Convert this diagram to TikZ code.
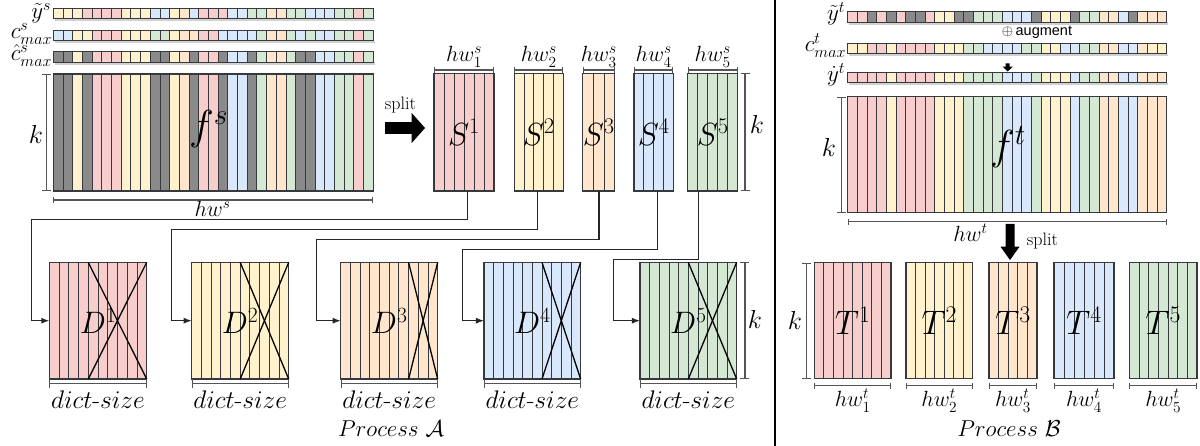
\RequirePackage{fix-cm}
\documentclass[tikz,border=0pt]{standalone}
\usepackage{amsmath}
\usepackage{fontspec}
\newfontfamily\sansaug{Liberation Sans}
\usetikzlibrary{arrows.meta,calc}
\definecolor{pr}{HTML}{F8CECC}
\definecolor{py}{HTML}{FFF2CC}
\definecolor{po}{HTML}{FFE6CC}
\definecolor{pb}{HTML}{DAE8FC}
\definecolor{pg}{HTML}{D5E8D4}
\definecolor{pk}{HTML}{8A8A8A}
\definecolor{edge}{HTML}{36393D}
\definecolor{dimc}{HTML}{555555}
\newcommand\fs[1]{\fontsize{#1}{#1}\selectfont}
\newcommand\cellstrip[6]{%
  \fill[black!18] ({#2+1.5},{#3+#5}) rectangle ({#2+33*#4+1.5},{#3+#5+2.5});
  \foreach \c [count=\i from 0] in {#6}{\draw[cellln,fill=\c] ({#2+\i*#4},#3) rectangle ++(#4,#5);}
  \node[draw=edge,line width=1.1pt,inner sep=0pt,outer sep=0pt,minimum width={33*#4pt},minimum height={#5pt},anchor=north west] (#1) at (#2,#3) {};
}
\newcommand\colblock[6]{%
  \foreach \c [count=\i from 0] in {#6}{\draw[stripeln,fill=\c] ({#2+\i*#4},#3) rectangle ++(#4,#5);}
  \node[draw=edge,line width=1.2pt,inner sep=0pt,outer sep=0pt,minimum width={33*#4pt},minimum height={#5pt},anchor=north west] (#1) at (#2,#3) {};
}
\begin{document}
\begin{tikzpicture}[x=1pt,y=-1pt,
  cellln/.style={draw=edge,line width=0.9pt},
  stripeln/.style={draw=edge,line width=0.9pt},
  blk/.style={draw=edge,line width=1.2pt,inner sep=0pt,outer sep=0pt},
  cols/.style={path picture={
    \foreach \k in {1,...,#1}{
      \draw[stripeln] ($(path picture bounding box.north west)!{\k/(#1+1)}!(path picture bounding box.north east)$) -- ($(path picture bounding box.south west)!{\k/(#1+1)}!(path picture bounding box.south east)$);
    }}},
  dimln/.style={draw=dimc,line width=1.1pt},
  dimh/.style={dimln,{Bar[width=6pt]}-{Bar[width=6pt]}},
  dimk/.style={dimln,{Bar[width=9pt]}-{Bar[width=9pt]}},
  conn/.style={draw=black!85,line width=1.1pt,-{Latex[length=8pt,width=6pt]}},
  xln/.style={draw=black,line width=1.3pt},
  lbl/.style={inner sep=0pt,outer sep=0pt},
  bigarrow/.style={fill=black}
]
\useasboundingbox (0,0) rectangle (1200,446);

% ---------- Process A : strips ----------
\cellstrip{ys}{53.3}{8.3}{9.697}{10.6}{py,py,py,pr,pr,pr,pr,py,py,py,pb,pb,py,po,pb,pr,pr,pr,pb,pb,pg,pg,po,po,pg,pg,pb,pb,pb,pg,pg,pr,pg}
\cellstrip{cs}{53.3}{30.1}{9.697}{10.6}{pb,pb,py,py,pr,pr,pr,py,py,py,pg,pg,py,po,po,pr,pr,pb,pb,pb,pb,pg,po,po,pg,pb,pg,pb,pb,pg,pg,pr,pg}
\cellstrip{chs}{53.3}{51.7}{9.697}{10.6}{pk,pk,py,pk,pr,pr,pr,py,py,py,pk,pk,py,po,pk,pr,pr,pk,pb,pb,pk,pg,po,po,pg,pk,pk,pb,pb,pg,pg,pr,pg}
\node[lbl,anchor=base east,font=\fs{23}] (lys) at (51,18.5) {$\tilde{y}^s$};
\node[lbl,anchor=base east,font=\fs{23}] (lcs) at (52,38.5) {$c^s_{max}$};
\node[lbl,anchor=base east,font=\fs{23}] (lchs) at (52,60.5) {$\hat{c}^s_{max}$};

% f^s
\colblock{fs}{53.3}{74}{9.697}{117}{pk,pk,py,pk,pr,pr,pr,py,py,py,pk,pk,py,po,pk,pr,pr,pk,pb,pb,pk,pg,po,po,pg,pk,pk,pb,pb,pg,pg,pr,pg}
\node[lbl,anchor=base,font=\fs{42}] (lfs) at (208.5,139.5) {$f^s$};
\draw[dimk] ([xshift=-6.6pt]fs.north west) -- ([xshift=-6.6pt]fs.south west);
\node[lbl,anchor=base,font=\fs{26}] (kfs) at (36,143.3) {$k$};
\draw[dimh] ([yshift=-9pt]fs.south west) -- ([yshift=-9pt]fs.south east);
\node[lbl,anchor=base,font=\fs{22}] (hws) at (212.5,216.7) {$hw^s$};

% split arrow
\fill[bigarrow] (385,122.2) -- (411.7,122.2) -- (411.7,113) -- (425,128) -- (411.7,143) -- (411.7,133.8) -- (385,133.8) -- cycle;
\node[lbl,anchor=base,font=\fs{18}] (splA) at (400.5,109.3) {split};

% S blocks
\node[blk,fill=pr,cols=5,minimum width=60pt,minimum height=117.7pt,font=\fs{32}] (S1) at (464,132.2) {$S^1$};
\node[blk,fill=py,cols=4,minimum width=49pt,minimum height=117.7pt,font=\fs{32}] (S2) at (538.8,132.2) {$S^2$};
\node[blk,fill=po,cols=2,minimum width=31pt,minimum height=117.7pt,font=\fs{32}] (S3) at (598.8,132.2) {$S^3$};
\node[blk,fill=pb,cols=3,minimum width=39.3pt,minimum height=117.7pt,font=\fs{32}] (S4) at (653.7,132.2) {$S^4$};
\node[blk,fill=pg,cols=4,minimum width=50pt,minimum height=117.7pt,font=\fs{32}] (S5) at (712.7,132.2) {$S^5$};
\foreach \s/\t in {S1/1,S2/2,S3/3,S4/4,S5/5}{
  \draw[dimh] ([yshift=3.3pt]\s.north west) -- ([yshift=3.3pt]\s.north east);
  \node[lbl,anchor=base,font=\fs{22}] (hw\t) at ([yshift=11.6pt]\s.north) {$hw^s_{\t}$};
}
\draw[dimk] ([xshift=7.3pt]S5.north east) -- ([xshift=7.3pt]S5.south east);
\node[lbl,anchor=base,font=\fs{26}] (kS) at (757,133.3) {$k$};

% D blocks
\node[blk,fill=pr,cols=9,minimum width=97.4pt,minimum height=116.7pt,font=\fs{31}] (D1) at (98,320.7) {$D^1$};
\node[blk,fill=py,cols=9,minimum width=97pt,minimum height=116.7pt,font=\fs{31}] (D2) at (240.2,320.7) {$D^2$};
\node[blk,fill=po,cols=9,minimum width=97pt,minimum height=116.7pt,font=\fs{31}] (D3) at (389.2,320.7) {$D^3$};
\node[blk,fill=pb,cols=9,minimum width=96.7pt,minimum height=116.7pt,font=\fs{31}] (D4) at (532.3,320.7) {$D^4$};
\node[blk,fill=pg,cols=9,minimum width=96.7pt,minimum height=116.7pt,font=\fs{31}] (D5) at (688.3,320.7) {$D^5$};
\foreach \d/\f in {D1/0.4,D2/0.5,D3/0.7,D4/0.6,D5/0.5}{
  \draw[xln] ($(\d.north west)!\f!(\d.north east)$) -- (\d.south east);
  \draw[xln] ($(\d.south west)!\f!(\d.south east)$) -- (\d.north east);
  \draw[dimk] ([yshift=-4.3pt]\d.south west) -- ([yshift=-4.3pt]\d.south east);
  \node[lbl,anchor=base,font=\fs{25.5}] (ds\d) at ([yshift=-29.3pt]\d.south) {$dict\text{-}size$};
}
\draw[dimk] ([xshift=8.3pt]D5.north east) -- ([xshift=8.3pt]D5.south east);
\node[lbl,anchor=base,font=\fs{26}] (kD) at (755,328.3) {$k$};
\node[lbl,anchor=base,font=\fs{23}] (procA) at (391,436.7) {$Process\ \mathcal{A}$};

% connectors S -> D
\draw[conn] ([xshift=3.7pt]S1.south) |- (31.7,219.3) |- (D1.west);
\draw[conn] ([xshift=-1.1pt]S2.south) |- (171.7,229.3) |- (D2.west);
\draw[conn] ([xshift=0.2pt]S3.south) |- (316.7,239.3) |- (D3.west);
\draw[conn] ([xshift=3.6pt]S4.south) |- (462.7,249.3) |- (D4.west);
\draw[conn] ([xshift=-14.4pt]S5.south) |- (613.3,259.3) |- (D5.west);

% separator
\draw[line width=2.5pt] (775,0) -- (775,446);

% ---------- Process B ----------
\cellstrip{yt}{847.7}{11.7}{9.667}{10.6}{pr,pr,pk,pr,pk,pr,pk,pk,pr,py,py,pk,pk,pg,pg,pg,pb,pb,pb,pk,py,py,py,pk,pg,pg,po,po,pb,pk,po,po,po}
\cellstrip{ct}{847.7}{43.3}{9.667}{10.6}{py,py,pr,pr,py,pr,pr,pr,pr,py,py,py,pg,pg,pb,pb,pb,pb,pg,pg,py,py,pb,pb,pg,pg,po,po,pb,pb,po,py,py}
\cellstrip{ydt}{847.7}{72.3}{9.667}{10.6}{pr,pr,pr,pr,py,pr,pr,pr,pr,py,py,py,pg,pg,pg,pg,pb,pb,pb,pg,py,py,py,pb,pg,pg,po,po,pb,pb,po,po,po}
\node[lbl,anchor=base east,font=\fs{23}] (lyt) at (845,20.5) {$\tilde{y}^t$};
\node[lbl,anchor=base east,font=\fs{23}] (lct) at (846,51.5) {$c^t_{max}$};
\node[lbl,anchor=base east,font=\fs{23}] (lydt) at (845,82) {$\dot{y}^t$};
\node[lbl,anchor=base,font=\fs{14.5}] (aug) at (1037,35.5) {\sansaug$\oplus$\,augment};
\fill[bigarrow] (1005.7,63.3) -- (1009.7,63.3) -- (1009.7,66.7) -- (1012.7,66.7) -- (1007.7,71.5) -- (1002.7,66.7) -- (1005.7,66.7) -- cycle;

\colblock{ft}{847.7}{96.7}{9.667}{116}{pr,pr,pr,pr,py,pr,pr,pr,pr,py,py,py,pg,pg,pg,pg,pb,pb,pb,pg,py,py,py,pb,pg,pg,po,po,pb,pb,po,po,po}
\node[lbl,anchor=base,font=\fs{42}] (lft) at (1008,160) {$f^t$};
\draw[dimk] ([xshift=-6pt]ft.north west) -- ([xshift=-6pt]ft.south west);
\node[lbl,anchor=base,font=\fs{26}] (kft) at (829,156.7) {$k$};
\draw[dimh] ([yshift=-9pt]ft.south west) -- ([yshift=-9pt]ft.south east);
\node[lbl,anchor=base,font=\fs{22}] (hwt) at (970.5,241.7) {$hw^t$};
\fill[bigarrow] (1005.5,224) -- (1014.5,224) -- (1014.5,246.7) -- (1019.5,246.7) -- (1010,260) -- (1000.5,246.7) -- (1005.5,246.7) -- cycle;
\node[lbl,anchor=base,font=\fs{18}] (splB) at (1042.5,245.7) {split};

% T blocks
\node[blk,fill=pr,cols=7,minimum width=76.7pt,minimum height=116pt,font=\fs{34}] (T1) at (852.7,320.7) {$T^1$};
\node[blk,fill=py,cols=6,minimum width=66.7pt,minimum height=116pt,font=\fs{34}] (T2) at (939.3,320.7) {$T^2$};
\node[blk,fill=po,cols=4,minimum width=48pt,minimum height=116pt,font=\fs{34}] (T3) at (1013,320.7) {$T^3$};
\node[blk,fill=pb,cols=5,minimum width=60pt,minimum height=116pt,font=\fs{34}] (T4) at (1084,320.7) {$T^4$};
\node[blk,fill=pg,cols=6,minimum width=67.7pt,minimum height=116pt,font=\fs{34}] (T5) at (1163.2,320.7) {$T^5$};
\foreach \s/\t in {T1/1,T2/2,T3/3,T4/4,T5/5}{
  \draw[dimh] ([yshift=-7pt]\s.south west) -- ([yshift=-7pt]\s.south east);
  \node[lbl,anchor=base,font=\fs{22}] (hwt\t) at ([yshift=-28pt]\s.south) {$hw^t_{\t}$};
}
\draw[dimk] ([xshift=-7.6pt]T1.north west) -- ([xshift=-7.6pt]T1.south west);
\node[lbl,anchor=base,font=\fs{26}] (kT) at (795,330) {$k$};
\node[lbl,anchor=base,font=\fs{23}] (procB) at (1009,436.7) {$Process\ \mathcal{B}$};
\end{tikzpicture}
\end{document}
